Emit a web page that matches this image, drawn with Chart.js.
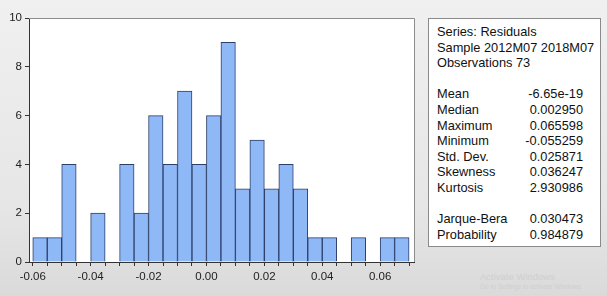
<!DOCTYPE html>
<html>
<head>
<meta charset="utf-8">
<script src="https://cdn.jsdelivr.net/npm/chart.js@4.4.1/dist/chart.umd.min.js"></script>
<style>
  html, body { margin: 0; padding: 0; }
  body {
    width: 607px; height: 296px; overflow: hidden; position: relative;
    background: linear-gradient(to bottom, #f0f0f0 0%, #e6e6e6 70%, #dadada 100%);
    font-family: Arial, "Liberation Sans", sans-serif;
  }
  #wrap { position: absolute; left: 0; top: 0; width: 420px; height: 296px; }
  #stats {
    position: absolute; left: 428px; top: 18px; width: 173px; height: 229px;
    box-sizing: border-box; border: 1px solid #8a8a8a; background: #fff;
    padding: 5px 0 0 8px; font-size: 12.8px; color: #111; line-height: 15.6px;
  }
  #stats .row { display: flex; }
  #stats .lab { width: 84px; }
  #stats .val { width: 62px; text-align: right; }
  #stats .gap { height: 15.6px; }
  #wm { position: absolute; left: 480px; top: 271px; color: #cfcfcf; }
  #wm .a { font-size: 9.5px; }
  #wm .b { font-size: 6.5px; margin-top: 1px; }
</style>
</head>
<body>
<div id="wrap"><canvas id="hist" width="420" height="296"></canvas></div>
<div id="stats"></div>
<div id="wm"><div class="a">Activate Windows</div><div class="b">Go to Settings to activate Windows.</div></div>
<script>
// histogram bins (left edges) and counts
const binWidth = 0.005;
const binLeft = [-0.060, -0.055, -0.050, -0.045, -0.040, -0.035, -0.030, -0.025, -0.020,
  -0.015, -0.010, -0.005, 0.000, 0.005, 0.010, 0.015, 0.020, 0.025, 0.030, 0.035,
  0.040, 0.045, 0.050, 0.055, 0.060, 0.065];
const counts = [1, 1, 4, 0, 2, 0, 4, 2, 6, 4, 7, 4, 6, 9, 3, 5, 3, 4, 3, 1, 1, 0, 1, 0, 1, 1];

const headerLines = ["Series: Residuals", "Sample 2012M07 2018M07", "Observations 73"];
const statLabels = ["Mean", "Median", "Maximum", "Minimum", "Std. Dev.", "Skewness", "Kurtosis"];
const statValues = ["-6.65e-19", "0.002950", "0.065598", "-0.055259", "0.025871", "0.036247", "2.930986"];
const testLabels = ["Jarque-Bera", "Probability"];
const testValues = ["0.030473", "0.984879"];

// stats box
const box = document.getElementById("stats");
let html = headerLines.map(l => `<div>${l}</div>`).join("");
html += '<div class="gap"></div>';
statLabels.forEach((l, i) => {
  html += `<div class="row"><span class="lab">${l}</span><span class="val">${statValues[i]}</span></div>`;
});
html += '<div class="gap"></div>';
testLabels.forEach((l, i) => {
  html += `<div class="row"><span class="lab">${l}</span><span class="val">${testValues[i]}</span></div>`;
});
box.innerHTML = html;

const points = binLeft.map((b, i) => ({ x: b + binWidth / 2, y: counts[i] }));

const frame = {
  id: "frame",
  beforeDraw(chart) {
    const { ctx, chartArea: a } = chart;
    ctx.save();
    ctx.fillStyle = "#ffffff";
    ctx.fillRect(a.left, a.top, a.right - a.left, a.bottom - a.top);
    ctx.restore();
  },
  afterDraw(chart) {
    const { ctx, chartArea: a } = chart;
    ctx.save();
    ctx.strokeStyle = "#8c8c8c";
    ctx.lineWidth = 1;
    ctx.beginPath();
    ctx.moveTo(a.left, a.top + 0.5);
    ctx.lineTo(a.right + 0.5, a.top + 0.5);
    ctx.lineTo(a.right + 0.5, a.bottom);
    ctx.stroke();
    ctx.restore();
  }
};

new Chart(document.getElementById("hist"), {
  type: "bar",
  data: {
    datasets: [{
      data: points,
      backgroundColor: "#8fb8f7",
      borderColor: "#2c3f6b",
      borderWidth: 1,
      barPercentage: 1,
      categoryPercentage: 1
    }]
  },
  options: {
    responsive: false,
    animation: false,
    layout: { padding: { top: 18, right: 6, left: 0, bottom: 0 } },
    plugins: { legend: { display: false }, tooltip: { enabled: false } },
    scales: {
      x: {
        type: "linear",
        offset: false,
        min: -0.0613,
        max: 0.0717,
        afterBuildTicks(scale) {
          const t = [];
          for (let k = -12; k <= 14; k++) t.push({ value: k * binWidth });
          scale.ticks = t;
        },
        afterFit(scale) { scale.height = 34; },
        grid: { drawOnChartArea: false, tickLength: 4, color: "#333", offset: false },
        border: { color: "#333", width: 1 },
        ticks: {
          autoSkip: false, maxRotation: 0, padding: 4,
          color: "#222", font: { family: "Arial", size: 11.5 },
          callback(v) {
            const m = Math.round(v * 1000);
            return m % 20 === 0 ? (m / 1000).toFixed(2) : "";
          }
        }
      },
      y: {
        min: 0, max: 10,
        afterFit(scale) { scale.width = 29; },
        grid: { drawOnChartArea: false, tickLength: 4, color: "#333" },
        border: { color: "#333", width: 1 },
        ticks: { stepSize: 2, padding: 3, color: "#222", font: { family: "Arial", size: 11.5 } }
      }
    }
  },
  plugins: [frame]
});
</script>
</body>
</html>
